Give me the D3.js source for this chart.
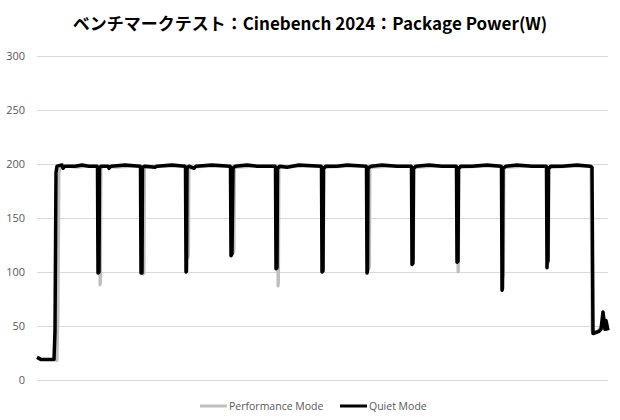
<!DOCTYPE html>
<html>
<head>
<meta charset="utf-8">
<script src="https://cdn.jsdelivr.net/npm/d3@7"></script>
<style>
  body { margin: 0; background: #fff; }
  svg { display: block; }
</style>
</head>
<body>
<script>
// chart data (time in seconds, power in W)
const seriesNames = ["Performance Mode", "Quiet Mode"];
const yTicks = [0, 50, 100, 150, 200, 250, 300];

const performance = [
  [0,20],[4,19],[18,19],[19,18],[20,18],[21,60],[22,190],[23,198],[30,198],[40,197],[50,198],[62,198],
  [63,88],[63.5,90],[64,196],[66,198],[80,197],[95,198],[105,198],
  [106,98],[107,99],[107.5,196],[110,197],[125,198],[150,198],
  [151,113],[151.5,115],[152,195],[154,197],[170,198],[195,198],
  [196,117],[197,120],[197.5,196],[200,197],[220,198],[240,198],
  [241,87],[241.5,90],[242,196],[245,197],[265,198],[285,198],
  [286,102],[286.5,105],[287,196],[290,197],[310,198],[331,198],
  [332,103],[332.5,106],[333,196],[336,197],[355,198],[375,198],
  [376,111],[376.5,113],[377,196],[380,197],[400,198],[420,198],
  [421,100],[421.5,102],[422,196],[425,197],[445,198],[465,198],
  [466,95],[466.5,98],[467,196],[470,197],[490,198],[510,198],
  [511,108],[511.5,111],[512,196],[515,197],[535,198],[554,198],
  [555,45],[560,45],[565,50],[571,46]
];

const quiet = [
  [0,21],[2,20],[4,19],[17,19],[18,45],[19,192],[20,198],[25,199],[26,196],[28,198],[38,198],[45,199],[52,198],[60,198],
  [60.5,197],[61,99],[62,100],[62.5,196],[64,198],[71,198],[72,196],[74,198],[88,199],[103,198],
  [103.5,197],[104,99],[105,99],[105.5,197],[108,198],[118,197],[120,198],[135,199],[148,198],
  [148.5,197],[149,100],[149.5,101],[150,196],[152,198],[157,196],[159,198],[175,199],[193,198],
  [193.5,197],[194,115],[195,117],[196,196],[198,198],[210,199],[220,198],[238,198],
  [238.5,197],[239,103],[240,104],[240.5,196],[243,198],[250,197],[262,199],[284,198],
  [284.5,197],[285,100],[286,101],[286.5,196],[289,198],[300,198],[310,199],[329,198],
  [329.5,197],[330,99],[330.5,101],[331,196],[334,198],[345,199],[360,198],[374,198],
  [374.5,197],[375,107],[376,108],[376.5,196],[379,198],[392,199],[405,198],[419,198],
  [419.5,197],[420,109],[421,110],[421.5,196],[424,198],[435,198],[450,199],[464,198],
  [464.5,197],[465,83],[465.5,85],[466,196],[469,198],[480,199],[495,198],[509,198],
  [509.5,197],[510,104],[510.5,120],[511,110],[511.5,196],[514,198],[525,198],[540,199],[553,198],[555,197],
  [556,43],[559,44],[562,45],[564,47],[566,63],[568,47],[569,55],[571,46]
];

const colors = ["#bfbfbf", "#000000"];

const W = 620, H = 420;
const margin = { top: 56, right: 12, bottom: 40, left: 37 };
const width = W - margin.left - margin.right,
      height = H - margin.top - margin.bottom;

const svg = d3.select("body").append("svg")
    .attr("width", W)
    .attr("height", H);

// title
svg.append("text")
   .attr("x", W / 2)
   .attr("y", 30)
   .attr("text-anchor", "middle")
   .style("font-family", "'Noto Sans CJK JP', 'Noto Sans', sans-serif")
   .style("font-weight", "bold")
   .style("font-size", "17px")
   .attr("fill", "#000")
   .text("ベンチマークテスト：Cinebench 2024：Package Power(W)");

const g = svg.append("g")
   .attr("transform", `translate(${margin.left},${margin.top})`);

const x = d3.scaleLinear().domain([0, 571]).range([0, width]);
const y = d3.scaleLinear().domain([0, 300]).range([height, 0]);

// gridlines + labels
const yAxis = g.append("g")
   .call(d3.axisLeft(y).tickValues(yTicks).tickSize(-width).tickPadding(12));
yAxis.select(".domain").remove();
yAxis.selectAll(".tick line").attr("stroke", "#d9d9d9");
yAxis.selectAll(".tick text")
     .attr("fill", "#595959")
     .style("font-family", "'Open Sans', 'Noto Sans', sans-serif")
     .style("font-size", "11px");

const line = d3.line()
   .x(d => x(d[0]))
   .y(d => y(d[1]));

[performance, quiet].forEach((s, i) => {
  g.append("path")
   .datum(s)
   .attr("fill", "none")
   .attr("stroke", colors[i])
   .attr("stroke-width", i === 1 ? 3.5 : 3)
   .attr("stroke-linejoin", "round")
   .attr("d", line);
});

// legend
const legendPos = [200, 340];
const legend = svg.append("g").attr("transform", "translate(0,406)");
seriesNames.forEach((name, i) => {
  const item = legend.append("g").attr("transform", `translate(${legendPos[i]},0)`);
  item.append("line")
      .attr("x1", 0).attr("x2", 27)
      .attr("stroke", colors[i])
      .attr("stroke-width", 3);
  item.append("text")
      .attr("x", 29)
      .attr("y", 4)
      .attr("fill", "#595959")
      .style("font-family", "'Open Sans', 'Noto Sans', sans-serif")
      .style("font-size", "10.5px")
      .text(name);
});
</script>
</body>
</html>
